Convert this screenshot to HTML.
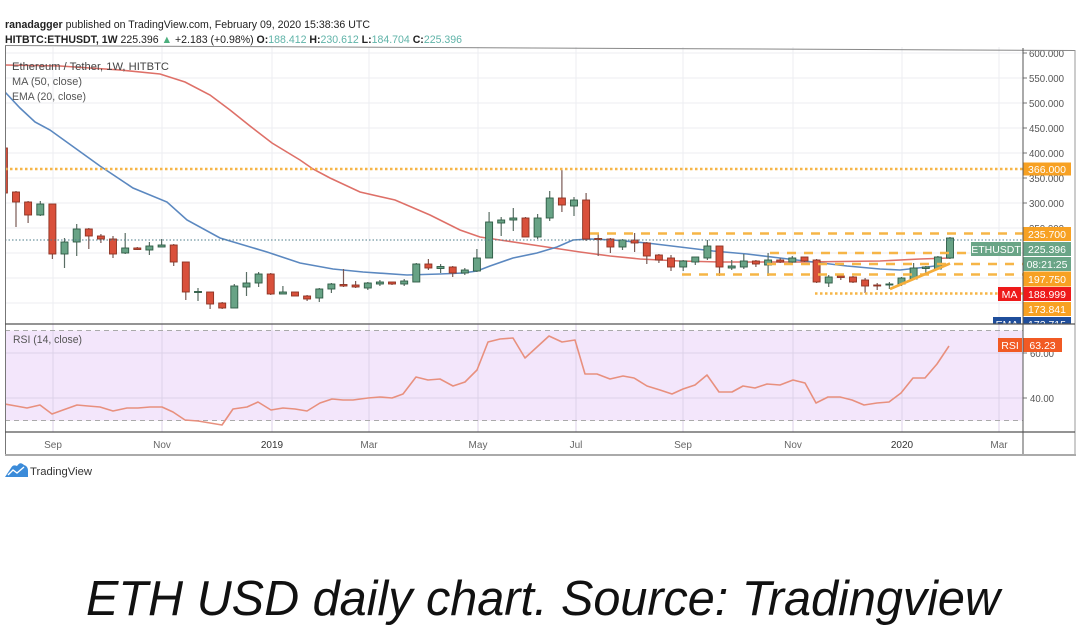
<!DOCTYPE html>
<html><head><meta charset="utf-8"><style>
html,body{margin:0;padding:0;background:#fff;}
svg{display:block;font-family:"Liberation Sans",Arial,sans-serif;}
</style></head><body>
<svg width="1080" height="627" viewBox="0 0 1080 627" xmlns="http://www.w3.org/2000/svg">
<defs>
<clipPath id="cp"><rect x="5" y="47" width="1018" height="277"/></clipPath>
<clipPath id="cr"><rect x="5" y="324" width="1018" height="108"/></clipPath>
<clipPath id="ca"><rect x="960" y="50" width="115" height="274"/></clipPath>
</defs>
<rect width="1080" height="627" fill="#fff"/>

<!-- header -->
<text x="5" y="28" font-size="11" textLength="365" lengthAdjust="spacingAndGlyphs" fill="#222"><tspan font-weight="bold">ranadagger</tspan> published on TradingView.com, February 09, 2020 15:38:36 UTC</text>
<text x="5" y="43" font-size="11" textLength="457" lengthAdjust="spacingAndGlyphs" fill="#222"><tspan font-weight="bold">HITBTC:ETHUSDT, 1W</tspan> 225.396 <tspan fill="#4caf7d">▲</tspan> +2.183 (+0.98%) <tspan font-weight="bold">O:</tspan><tspan fill="#5fb3a8">188.412</tspan> <tspan font-weight="bold">H:</tspan><tspan fill="#5fb3a8">230.612</tspan> <tspan font-weight="bold">L:</tspan><tspan fill="#5fb3a8">184.704</tspan> <tspan font-weight="bold">C:</tspan><tspan fill="#5fb3a8">225.396</tspan></text>

<!-- RSI background -->
<rect x="5" y="330.5" width="1018" height="90" fill="#f3e6fb"/>

<!-- grid -->
<g stroke="#eceef2" stroke-width="1">
<path d="M5 53H1023M5 78H1023M5 103H1023M5 128H1023M5 153H1023M5 178H1023M5 203H1023M5 228H1023M5 253H1023M5 278H1023M5 303H1023"/>
<path d="M53 47V324M162 47V324M272 47V324M369 47V324M478 47V324M576 47V324M683 47V324M793 47V324M902 47V324M999 47V324"/>
</g>
<g stroke="#ddd2e8" stroke-width="1">
<path d="M5 353H1023M5 398H1023"/>
<path d="M53 324V432M162 324V432M272 324V432M369 324V432M478 324V432M576 324V432M683 324V432M793 324V432M902 324V432M999 324V432"/>
</g>
<g stroke="#aaa" stroke-width="1" stroke-dasharray="5,4">
<path d="M5 330.5H1023M5 420.5H1023"/>
</g>

<g clip-path="url(#cp)">
<!-- MA 50 -->
<polyline fill="none" stroke="#de7068" stroke-width="1.6" points="5,65 60,66 120,70 160,74 185,82 210,95 230,110 250,126 272,143 300,160 313,169 330,178 360,192 395,200 430,215 460,230 480,237 500,240 540,246 580,252 610,256 640,259 680,261 720,262 800,262 880,261 920,259 950,258"/>
<!-- EMA 20 -->
<polyline fill="none" stroke="#5b88c0" stroke-width="1.6" points="5,92 20,108 35,122 50,130 75,148 100,166 133,188 167,202 187,220 220,238 267,252 300,263 333,269 363,272 407,275 440,274 463,273 477,271 490,266 513,258 537,253 557,247 573,240 590,239 613,240 647,243 680,247 713,251 747,254 780,258 813,262 847,266 880,269 900,270 927,267 950,264"/>

<!-- wicks -->
<path fill="none" stroke="#7a5a55" stroke-width="1.2" d="M3.9 148V193M16 191V227M28.1 201V223M52.4 204V259M88.8 228V249M100.9 234V243M113 236V258M137.3 247V250M173.7 244V266M185.8 262V300M210.1 292V309M222.2 302V309M270.7 273V295M295 292V296M307.1 295V301M343.5 269V287M355.6 281V288M392 282V285M428.4 259V270M452.7 266V277M525.5 217V237M561.9 169V212M586.1 193V241M598.2 233V256M610.4 238V253M634.6 233V252M646.8 242V264M658.9 254V263M671 255V271M719.5 246V276M755.9 260V267M780.2 258V263M804.5 257V262M816.6 259V283M840.8 275V280M853 276V283M865.1 278V293M877.2 283V290"/>
<path fill="none" stroke="#5a6e64" stroke-width="1.2" d="M40.3 201V216M64.5 238V268M76.7 224V256M125.2 233V254M149.4 242V255M161.6 239V247M198 288V301M234.3 284V308M246.5 272V296M258.6 272V287M282.9 286V294M319.3 288V302M331.4 283V293M367.8 282V290M379.9 280V286M404.2 279V286M416.3 263V282M440.6 264V273M464.8 268V275M476.9 249V272M489.1 212V258M501.2 217V236M513.3 208V231M537.6 214V239M549.7 191V221M574 197V216M622.5 239V250M683.2 260V271M695.3 257V265M707.4 240V260M731.7 260V270M743.8 254V269M768.1 253V276M792.3 256V263M828.7 275V287M889.4 282V289M901.5 277V286M913.6 263V279M925.8 266V275M937.9 256V270M950 237V259"/>

<!-- red bodies -->
<g fill="#d9503b" stroke="#8c3324" stroke-width="0.9">
<rect x="0.4" y="148" width="7" height="45"/>
<rect x="12.5" y="192" width="7" height="10"/>
<rect x="24.6" y="202" width="7" height="13"/>
<rect x="48.9" y="204" width="7" height="50"/>
<rect x="85.3" y="229" width="7" height="7"/>
<rect x="97.4" y="236" width="7" height="3"/>
<rect x="109.5" y="239" width="7" height="15"/>
<rect x="133.8" y="248" width="7" height="1.5"/>
<rect x="170.2" y="245" width="7" height="17"/>
<rect x="182.3" y="262" width="7" height="30"/>
<rect x="206.6" y="292" width="7" height="12"/>
<rect x="218.7" y="303" width="7" height="5"/>
<rect x="267.2" y="274" width="7" height="20"/>
<rect x="291.5" y="292" width="7" height="4"/>
<rect x="303.6" y="296" width="7" height="3"/>
<rect x="340" y="284.5" width="7" height="1.5"/>
<rect x="352.1" y="285" width="7" height="2"/>
<rect x="388.5" y="282" width="7" height="2"/>
<rect x="424.9" y="264" width="7" height="4"/>
<rect x="449.2" y="267" width="7" height="6"/>
<rect x="522" y="218" width="7" height="19"/>
<rect x="558.4" y="198" width="7" height="7"/>
<rect x="582.6" y="200" width="7" height="39"/>
<rect x="594.7" y="238.5" width="7" height="1"/>
<rect x="606.9" y="239" width="7" height="8"/>
<rect x="631.1" y="240" width="7" height="3"/>
<rect x="643.3" y="243" width="7" height="13"/>
<rect x="655.4" y="255" width="7" height="5"/>
<rect x="667.5" y="258" width="7" height="9"/>
<rect x="716" y="246" width="7" height="21"/>
<rect x="752.4" y="261" width="7" height="3"/>
<rect x="776.7" y="260" width="7" height="2"/>
<rect x="801" y="257" width="7" height="4"/>
<rect x="813.1" y="260" width="7" height="22"/>
<rect x="837.3" y="276" width="7" height="1.5"/>
<rect x="849.5" y="277" width="7" height="5"/>
<rect x="861.6" y="280" width="7" height="6"/>
<rect x="873.7" y="285" width="7" height="1"/>
</g>
<!-- green bodies -->
<g fill="#68a386" stroke="#2e5b45" stroke-width="0.9">
<rect x="36.8" y="204" width="7" height="11"/>
<rect x="61" y="242" width="7" height="12"/>
<rect x="73.2" y="229" width="7" height="13"/>
<rect x="121.7" y="248" width="7" height="5"/>
<rect x="145.9" y="246" width="7" height="4"/>
<rect x="158.1" y="245" width="7" height="2"/>
<rect x="194.5" y="291.5" width="7" height="1"/>
<rect x="230.8" y="286" width="7" height="22"/>
<rect x="243" y="283" width="7" height="4"/>
<rect x="255.1" y="274" width="7" height="9"/>
<rect x="279.4" y="292" width="7" height="2"/>
<rect x="315.8" y="289" width="7" height="9"/>
<rect x="327.9" y="284" width="7" height="5"/>
<rect x="364.3" y="283" width="7" height="5"/>
<rect x="376.4" y="282" width="7" height="2"/>
<rect x="400.7" y="281" width="7" height="3"/>
<rect x="412.8" y="264" width="7" height="18"/>
<rect x="437" y="266.5" width="7" height="2"/>
<rect x="461.3" y="270" width="7" height="3"/>
<rect x="473.4" y="258" width="7" height="13"/>
<rect x="485.6" y="222" width="7" height="36"/>
<rect x="497.7" y="220" width="7" height="3"/>
<rect x="509.8" y="218" width="7" height="2"/>
<rect x="534.1" y="218" width="7" height="19"/>
<rect x="546.2" y="198" width="7" height="20"/>
<rect x="570.5" y="200" width="7" height="6"/>
<rect x="619" y="240" width="7" height="7"/>
<rect x="679.7" y="261" width="7" height="6"/>
<rect x="691.8" y="257" width="7" height="5"/>
<rect x="703.9" y="246" width="7" height="12"/>
<rect x="728.2" y="266" width="7" height="2"/>
<rect x="740.3" y="261" width="7" height="6"/>
<rect x="764.6" y="260" width="7" height="5"/>
<rect x="788.8" y="258" width="7" height="4"/>
<rect x="825.2" y="277" width="7" height="6"/>
<rect x="885.9" y="284" width="7" height="1"/>
<rect x="898" y="278" width="7" height="6"/>
<rect x="910.1" y="268" width="7" height="11"/>
<rect x="922.3" y="267" width="7" height="1.5"/>
<rect x="934.4" y="257" width="7" height="12"/>
<rect x="946.5" y="238" width="7" height="20"/>
</g>

<!-- drawings -->
<g stroke="#f6b547" stroke-width="2.4" fill="none">
<path d="M5 169H1023" stroke-dasharray="2.5,2.5"/>
<path d="M590 233.5H1023" stroke-dasharray="9,8"/>
<path d="M770 253H1023" stroke-dasharray="9,8"/>
<path d="M767 264H1023" stroke-dasharray="9,8"/>
<path d="M682 274.5H1023" stroke-dasharray="9,8"/>
<path d="M815 293.5H1023" stroke-dasharray="2.5,2.5"/>
<path d="M890 289L950 263.5" stroke="#f5ad3a" stroke-width="2.6"/>
</g>
<path d="M5 240H1023" stroke="#4d7c8a" stroke-width="1" stroke-dasharray="1.5,2" fill="none"/>
</g>

<!-- legends -->
<text x="12" y="70" font-size="11" fill="#444" textLength="157" lengthAdjust="spacingAndGlyphs">Ethereum / Tether, 1W, HITBTC</text>
<text x="12" y="85" font-size="11" fill="#555" textLength="70" lengthAdjust="spacingAndGlyphs">MA (50, close)</text>
<text x="12" y="100" font-size="11" fill="#555" textLength="74" lengthAdjust="spacingAndGlyphs">EMA (20, close)</text>

<!-- RSI line -->
<g clip-path="url(#cr)">
<polyline fill="none" stroke="#e8907e" stroke-width="1.6" stroke-linejoin="round" points="5,404 16,406 27,408 40,405 52,414 63,410 77,405 88,406 100,407 113,411 127,408 138,408 150,407 162,407 173,412 185,420 198,421 210,423 222,425 233,409 247,407 258,402 271,410 283,408 295,409 307,411 320,403 332,399 343,400 353,400 368,398 380,397 392,398 403,394 416,377 428,380 440,379 453,386 465,382 477,370 488,342 500,339 513,338 525,358 537,347 549,336 562,342 575,340 585,374 597,374 610,379 623,376 634,378 647,386 660,390 672,394 683,389 695,385 707,375 719,392 732,392 743,386 755,388 767,384 780,385 793,380 805,383 816,403 828,397 840,397 852,400 864,405 877,403 889,402 901,393 913,378 925,378 937,364 949,346"/>
</g>
<text x="13" y="343" font-size="11" fill="#555" textLength="69" lengthAdjust="spacingAndGlyphs">RSI (14, close)</text>

<!-- price axis -->
<g font-size="10.5" fill="#555">
<g stroke="#777" stroke-width="1">
<path d="M1023 53H1027M1023 78H1027M1023 103H1027M1023 128H1027M1023 153H1027M1023 178H1027M1023 203H1027M1023 228H1027M1023 353H1027M1023 398H1027"/>
</g>
<text x="1029" y="57" textLength="35" lengthAdjust="spacingAndGlyphs">600.000</text>
<text x="1029" y="82" textLength="35" lengthAdjust="spacingAndGlyphs">550.000</text>
<text x="1029" y="107" textLength="35" lengthAdjust="spacingAndGlyphs">500.000</text>
<text x="1029" y="132" textLength="35" lengthAdjust="spacingAndGlyphs">450.000</text>
<text x="1029" y="157" textLength="35" lengthAdjust="spacingAndGlyphs">400.000</text>
<text x="1029" y="182" textLength="35" lengthAdjust="spacingAndGlyphs">350.000</text>
<text x="1029" y="207" textLength="35" lengthAdjust="spacingAndGlyphs">300.000</text>
<text x="1029" y="232" textLength="35" lengthAdjust="spacingAndGlyphs">250.000</text>
<text x="1030" y="402" textLength="24" lengthAdjust="spacingAndGlyphs">40.00</text>
<text x="1030" y="357" textLength="24" lengthAdjust="spacingAndGlyphs">60.00</text>
</g>
<rect x="1028" y="44" width="47" height="5" fill="#fff"/>

<!-- price labels -->
<g font-size="10.5" fill="#fff" text-anchor="middle">
<rect x="1023" y="162.5" width="48" height="13" fill="#f7a123"/>
<text x="1047" y="173">366.000</text>
<rect x="1023" y="227" width="48" height="14" fill="#f7a123"/>
<text x="1047" y="238">235.700</text>
<rect x="971" y="242" width="50" height="14" fill="#6aa587"/>
<text x="996" y="253">ETHUSDT</text>
<rect x="1023" y="242" width="48" height="14" fill="#6aa587"/>
<text x="1047" y="253">225.396</text>
<rect x="1023" y="257" width="48" height="14" fill="#6aa587"/>
<text x="1047" y="268">08:21:25</text>
<rect x="1023" y="271.5" width="48" height="15" fill="#f7a123"/>
<text x="1047" y="283">197.750</text>
<rect x="998" y="287" width="23" height="14" fill="#ee1a1a"/>
<text x="1009.5" y="298">MA</text>
<rect x="1023" y="287" width="48" height="14" fill="#ee1a1a"/>
<text x="1047" y="298">188.999</text>
<rect x="1023" y="302" width="48" height="14" fill="#f7a123"/>
<text x="1047" y="313">173.841</text>
<g clip-path="url(#ca)">
<rect x="993" y="317" width="28" height="14" fill="#1f4e9b"/>
<text x="1007" y="328">EMA</text>
<rect x="1023" y="317" width="48" height="14" fill="#1f4e9b"/>
<text x="1047" y="328">172.715</text>
</g>
<rect x="998" y="338" width="24" height="14" fill="#f15a24"/>
<text x="1010" y="349">RSI</text>
<rect x="1023" y="338" width="39" height="14" fill="#f15a24"/>
<text x="1042.5" y="349">63.23</text>
</g>

<!-- frame -->
<g fill="none">
<path d="M5 45.5L1075 50.5" stroke="#888" stroke-width="1"/>
<path d="M5.5 46V455" stroke="#777" stroke-width="1"/>
<path d="M1023 48V455" stroke="#555" stroke-width="1"/>
<path d="M1075 50V455" stroke="#999" stroke-width="1"/>
<path d="M5 324H1075" stroke="#555" stroke-width="1.2"/>
<path d="M5 432H1075" stroke="#555" stroke-width="1.2"/>
<path d="M5 455H1076" stroke="#aaa" stroke-width="2"/>
</g>

<!-- time axis -->
<g font-size="10" fill="#666" text-anchor="middle">
<text x="53" y="448">Sep</text>
<text x="162" y="448">Nov</text>
<text x="272" y="448" fill="#333">2019</text>
<text x="369" y="448">Mar</text>
<text x="478" y="448">May</text>
<text x="576" y="448">Jul</text>
<text x="683" y="448">Sep</text>
<text x="793" y="448">Nov</text>
<text x="902" y="448" fill="#333">2020</text>
<text x="999" y="448">Mar</text>
</g>

<!-- TradingView logo -->
<g>
<path d="M5 477 L11 468 Q13 464 17 466 Q20 461 24 465 Q28 466 28 471 L28 477 Z" fill="#3b8bd9"/>
<path d="M8 475 L13 470 L17 473 L24 467" stroke="#fff" stroke-width="1.4" fill="none"/>
</g>
<text x="30" y="475" font-size="11" fill="#333" textLength="62" lengthAdjust="spacingAndGlyphs">TradingView</text>

<!-- caption -->
<text x="86" y="615" font-size="49" font-style="italic" fill="#111" textLength="914" lengthAdjust="spacingAndGlyphs">ETH USD daily chart. Source: Tradingview</text>
</svg>
</body></html>
